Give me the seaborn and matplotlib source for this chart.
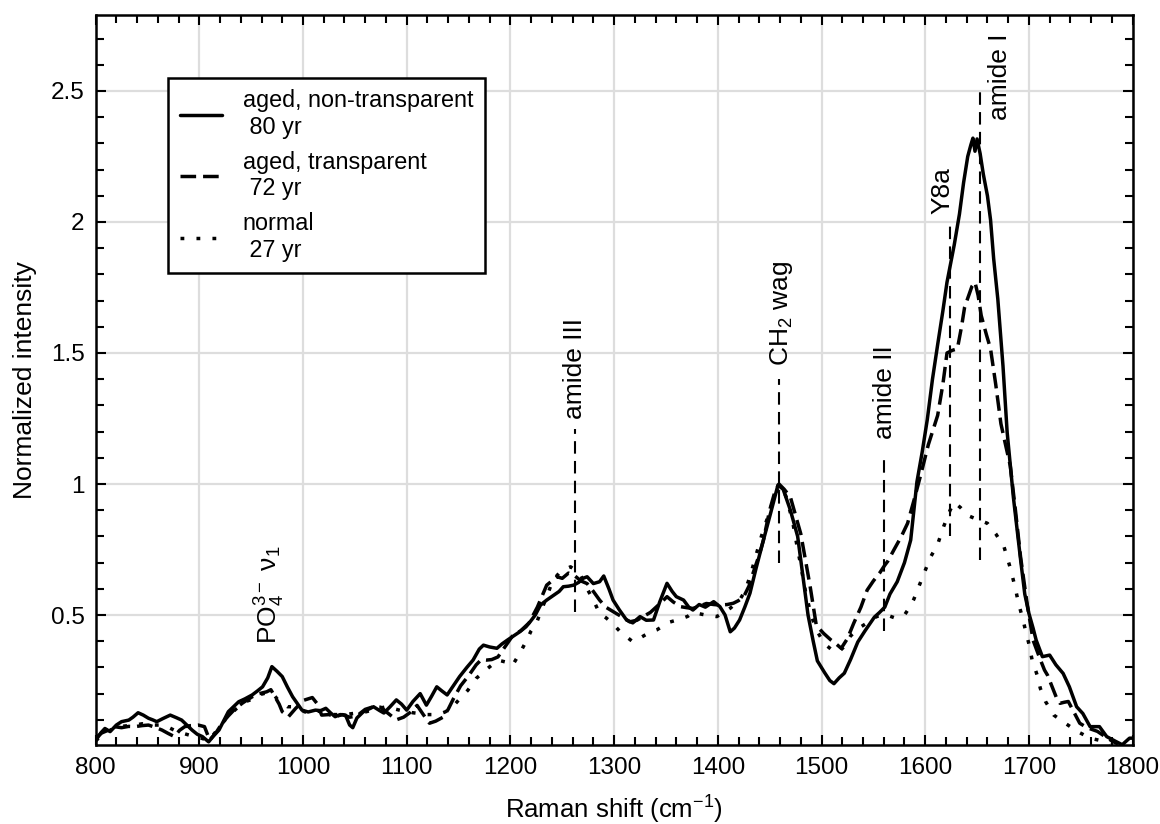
import matplotlib
matplotlib.use("Agg")
import matplotlib.pyplot as plt
import seaborn as sns
from matplotlib.ticker import MultipleLocator

# spectra (Raman shift in cm-1, normalized intensity)
wn_opaque = [800, 805, 809, 814, 820, 825, 832, 836, 841, 846, 851, 855, 859, 865, 872, 878, 883, 888, 893, 898,
             903, 909, 914, 919, 924, 928, 933, 938, 944, 951, 956, 961, 966, 970, 975, 980, 985, 990, 995, 999,
             1005, 1012, 1017, 1022, 1027, 1031, 1036, 1041, 1045, 1048, 1052, 1058, 1063, 1068, 1074, 1078, 1084,
             1090, 1095, 1100, 1106, 1113, 1119, 1124, 1129, 1134, 1139, 1145, 1151, 1158, 1164, 1170, 1174, 1180,
             1187, 1192, 1197, 1203, 1209, 1215, 1219, 1224, 1229, 1235, 1242, 1247, 1251, 1256, 1261, 1266, 1270,
             1274, 1280, 1286, 1290, 1295, 1299, 1305, 1312, 1318, 1325, 1331, 1338, 1344, 1351, 1356, 1360, 1367,
             1372, 1376, 1382, 1388, 1396, 1402, 1407, 1412, 1416, 1421, 1426, 1431, 1437, 1444, 1451, 1458, 1463,
             1470, 1477, 1482, 1487, 1492, 1496, 1503, 1508, 1512, 1517, 1522, 1528, 1535, 1542, 1551, 1556, 1561,
             1566, 1573, 1580, 1586, 1592, 1597, 1602, 1607, 1612, 1617, 1621, 1628, 1633, 1637, 1641, 1644, 1646,
             1648, 1650, 1653, 1656, 1660, 1663, 1666, 1670, 1675, 1679, 1685, 1692, 1696, 1700, 1704, 1707, 1713,
             1720, 1726, 1733, 1739, 1746, 1752, 1759, 1768, 1775, 1784, 1790, 1797, 1800]
int_opaque = [0.02, 0.05, 0.067, 0.055, 0.08, 0.093, 0.099, 0.11, 0.127, 0.118, 0.106, 0.10, 0.093, 0.105, 0.118,
              0.108, 0.099, 0.08, 0.061, 0.045, 0.036, 0.016, 0.04, 0.061, 0.10, 0.131, 0.15, 0.169, 0.18, 0.195,
              0.21, 0.226, 0.26, 0.303, 0.285, 0.265, 0.225, 0.188, 0.16, 0.137, 0.13, 0.137, 0.135, 0.144, 0.125,
              0.112, 0.12, 0.118, 0.08, 0.07, 0.107, 0.13, 0.14, 0.15, 0.135, 0.126, 0.15, 0.176, 0.16, 0.137, 0.17,
              0.2, 0.156, 0.19, 0.226, 0.21, 0.195, 0.23, 0.265, 0.30, 0.328, 0.37, 0.385, 0.378, 0.373, 0.39, 0.404,
              0.42, 0.436, 0.455, 0.474, 0.50, 0.538, 0.557, 0.576, 0.59, 0.608, 0.61, 0.614, 0.625, 0.64, 0.646,
              0.62, 0.627, 0.649, 0.60, 0.557, 0.52, 0.481, 0.47, 0.494, 0.48, 0.481, 0.55, 0.621, 0.59, 0.57, 0.557,
              0.53, 0.519, 0.54, 0.53, 0.551, 0.532, 0.50, 0.436, 0.45, 0.481, 0.53, 0.583, 0.68, 0.786, 0.89, 0.996,
              0.98, 0.90, 0.80, 0.65, 0.50, 0.40, 0.325, 0.28, 0.25, 0.238, 0.26, 0.278, 0.33, 0.397, 0.44, 0.492,
              0.51, 0.53, 0.58, 0.627, 0.70, 0.786, 1.008, 1.12, 1.246, 1.40, 1.532, 1.66, 1.77, 1.913, 2.03, 2.15,
              2.25, 2.294, 2.32, 2.27, 2.317, 2.26, 2.183, 2.10, 2.008, 1.86, 1.706, 1.45, 1.198, 0.95, 0.71, 0.58,
              0.506, 0.45, 0.404, 0.341, 0.347, 0.31, 0.277, 0.226, 0.15, 0.124, 0.074, 0.074, 0.036, 0.017, 0.005,
              0.03, 0.03]

wn_transp = [800, 806, 812, 818, 825, 832, 838, 845, 851, 857, 864, 870, 876, 881, 886, 892, 899, 905, 910, 916,
             922, 928, 935, 942, 951, 958, 965, 969, 973, 977, 980, 986, 993, 1001, 1009, 1014, 1018, 1025, 1031,
             1038, 1045, 1052, 1060, 1068, 1075, 1082, 1090, 1097, 1104, 1110, 1116, 1122, 1128, 1135, 1140, 1145,
             1152, 1160, 1167, 1172, 1177, 1182, 1188, 1195, 1202, 1210, 1218, 1226, 1235, 1240, 1245, 1250, 1256,
             1262, 1268, 1274, 1280, 1286, 1292, 1302, 1309, 1315, 1322, 1328, 1335, 1341, 1346, 1351, 1357, 1364,
             1370, 1376, 1383, 1389, 1396, 1402, 1409, 1415, 1420, 1425, 1430, 1434, 1440, 1444, 1450, 1455, 1459,
             1464, 1470, 1475, 1480, 1485, 1489, 1495, 1502, 1509, 1514, 1519, 1525, 1531, 1538, 1544, 1550, 1556,
             1561, 1564, 1570, 1577, 1583, 1590, 1596, 1603, 1612, 1617, 1621, 1626, 1631, 1635, 1638, 1642, 1645,
             1648, 1651, 1654, 1659, 1663, 1668, 1673, 1678, 1682, 1687, 1692, 1698, 1704, 1710, 1715, 1718, 1722,
             1727, 1730, 1734, 1738, 1742, 1749, 1756, 1766, 1772, 1781, 1786]
int_transp = [0.03, 0.05, 0.06, 0.074, 0.07, 0.075, 0.074, 0.078, 0.08, 0.072, 0.061, 0.048, 0.036, 0.06, 0.074,
              0.078, 0.08, 0.074, 0.023, 0.05, 0.087, 0.115, 0.144, 0.165, 0.188, 0.2, 0.207, 0.215, 0.188, 0.16,
              0.131, 0.112, 0.144, 0.175, 0.185, 0.16, 0.118, 0.12, 0.112, 0.12, 0.11, 0.115, 0.14, 0.15, 0.148,
              0.125, 0.10, 0.11, 0.13, 0.155, 0.12, 0.087, 0.095, 0.11, 0.14, 0.18, 0.23, 0.27, 0.31, 0.33, 0.328,
              0.33, 0.34, 0.38, 0.42, 0.44, 0.47, 0.53, 0.614, 0.63, 0.646, 0.64, 0.66, 0.65, 0.63, 0.62, 0.59, 0.557,
              0.53, 0.506, 0.49, 0.474, 0.48, 0.494, 0.51, 0.532, 0.55, 0.57, 0.55, 0.532, 0.528, 0.525, 0.535,
              0.544, 0.54, 0.538, 0.54, 0.545, 0.555, 0.57, 0.61, 0.66, 0.73, 0.786, 0.90, 0.97, 1.0, 0.98, 0.95,
              0.88, 0.81, 0.70, 0.61, 0.46, 0.43, 0.405, 0.39, 0.373, 0.41, 0.468, 0.53, 0.595, 0.63, 0.66, 0.69,
              0.706, 0.75, 0.80, 0.85, 0.95, 1.04, 1.15, 1.262, 1.38, 1.50, 1.51, 1.516, 1.6, 1.675, 1.72, 1.754,
              1.77, 1.72, 1.643, 1.57, 1.516, 1.38, 1.23, 1.14, 1.07, 0.90, 0.72, 0.55, 0.404, 0.34, 0.29, 0.27,
              0.23, 0.18, 0.163, 0.167, 0.17, 0.14, 0.087, 0.07, 0.056, 0.04, 0.017, 0.008]

wn_normal = [800, 806, 812, 818, 825, 832, 838, 845, 851, 858, 864, 870, 876, 883, 890, 896, 902, 909, 915, 920,
             925, 935, 945, 952, 957, 962, 967, 971, 975, 980, 985, 992, 997, 1002, 1010, 1020, 1030, 1040, 1050,
             1060, 1070, 1080, 1090, 1100, 1110, 1120, 1130, 1137, 1143, 1150, 1159, 1167, 1178, 1188, 1196, 1202,
             1209, 1215, 1220, 1225, 1230, 1235, 1241, 1247, 1253, 1258, 1263, 1268, 1274, 1280, 1286, 1292, 1298,
             1305, 1311, 1318, 1324, 1330, 1335, 1341, 1346, 1351, 1358, 1365, 1371, 1376, 1388, 1399, 1406, 1412,
             1421, 1426, 1431, 1437, 1442, 1447, 1452, 1457, 1462, 1466, 1472, 1477, 1480, 1485, 1490, 1495, 1503,
             1509, 1516, 1522, 1528, 1536, 1544, 1551, 1557, 1563, 1570, 1576, 1580, 1585, 1589, 1594, 1599, 1605,
             1612, 1618, 1624, 1628, 1634, 1641, 1650, 1660, 1668, 1676, 1682, 1687, 1690, 1694, 1697, 1700, 1703,
             1708, 1711, 1716, 1724, 1735, 1747, 1759, 1770, 1778]
int_normal = [0.02, 0.04, 0.055, 0.07, 0.075, 0.078, 0.08, 0.085, 0.08, 0.08, 0.08, 0.072, 0.06, 0.05, 0.042,
              0.036, 0.03, 0.02, 0.05, 0.075, 0.10, 0.14, 0.17, 0.18, 0.195, 0.2, 0.205, 0.2, 0.18, 0.165, 0.15,
              0.15, 0.14, 0.13, 0.135, 0.13, 0.12, 0.12, 0.125, 0.13, 0.14, 0.15, 0.14, 0.13, 0.125, 0.12, 0.12,
              0.13, 0.144, 0.175, 0.213, 0.258, 0.296, 0.328, 0.32, 0.308, 0.354, 0.398, 0.44, 0.468, 0.52, 0.57,
              0.633, 0.66, 0.675, 0.684, 0.67, 0.65, 0.60, 0.557, 0.506, 0.49, 0.47, 0.44, 0.42, 0.398, 0.41, 0.424,
              0.435, 0.443, 0.455, 0.47, 0.478, 0.486, 0.495, 0.51, 0.50, 0.494, 0.51, 0.526, 0.557, 0.59, 0.646,
              0.73, 0.80, 0.86, 0.92, 0.97, 0.99, 0.95, 0.86, 0.75, 0.69, 0.58, 0.50, 0.443, 0.39, 0.37, 0.357,
              0.38, 0.42, 0.45, 0.47, 0.49, 0.50, 0.50, 0.49, 0.495, 0.50, 0.53, 0.56, 0.61, 0.66, 0.72, 0.77, 0.84,
              0.90, 0.93, 0.91, 0.88, 0.865, 0.85, 0.81, 0.76, 0.68, 0.601, 0.544, 0.487, 0.436, 0.39, 0.33, 0.27,
              0.22, 0.17, 0.118, 0.087, 0.055, 0.03, 0.02, 0.005]

# band assignments
band_names = ["amide III", "CH$_2$ wag", "amide II", "Y8a", "amide I"]
band_pos = [1262, 1459, 1560, 1624, 1653]
band_lo = [0.51, 0.70, 0.44, 0.80, 0.71]
band_hi = [1.21, 1.40, 1.12, 2.00, 2.50]
band_text_x = [1262, 1461, 1561, 1617, 1672]
band_text_y = [1.25, 1.45, 1.17, 2.03, 2.39]

sns.set_style("ticks")
plt.rcParams["font.family"] = ["Liberation Sans", "DejaVu Sans"]
plt.rcParams["mathtext.fontset"] = "custom"
plt.rcParams["mathtext.rm"] = "Liberation Sans"
plt.rcParams["mathtext.it"] = "Liberation Sans:italic"
plt.rcParams["mathtext.bf"] = "Liberation Sans:bold"
for key in ["text.color", "axes.labelcolor", "xtick.color", "ytick.color", "axes.edgecolor"]:
    plt.rcParams[key] = "black"

fig, ax = plt.subplots(figsize=(11.6, 8.24), dpi=100)
fig.subplots_adjust(left=0.0824, right=0.9764, bottom=0.0959, top=0.9818)

sns.lineplot(x=wn_opaque, y=int_opaque, ax=ax, color="black", linewidth=2.5, estimator=None,
             label="aged, non-transparent\n 80 yr")
sns.lineplot(x=wn_transp, y=int_transp, ax=ax, color="black", linewidth=2.5, estimator=None,
             linestyle=(0, (4.5, 2)), label="aged, transparent\n 72 yr")
sns.lineplot(x=wn_normal, y=int_normal, ax=ax, color="black", linewidth=2.5, estimator=None,
             linestyle=(0, (1.1, 3.5)), label="normal\n 27 yr")

for name, xp, lo, hi, tx, ty in zip(band_names, band_pos, band_lo, band_hi, band_text_x, band_text_y):
    ax.plot([xp, xp], [lo, hi], color="black", lw=1.5, linestyle=(0, (6, 3.5)))
    ax.text(tx, ty, name, rotation=90, ha="center", va="bottom", fontsize=19)

ax.text(968, 0.39, "PO$_4^{3-}$ ν$_1$", rotation=90, ha="center", va="bottom", fontsize=19)

ax.set_xlim(800, 1800)
ax.set_ylim(0.004, 2.79)
ax.set_xticks([800, 900, 1000, 1100, 1200, 1300, 1400, 1500, 1600, 1700, 1800])
ax.set_yticks([0.5, 1, 1.5, 2, 2.5])
ax.set_yticklabels(["0.5", "1", "1.5", "2", "2.5"])
ax.xaxis.set_minor_locator(MultipleLocator(20))
ax.yaxis.set_minor_locator(MultipleLocator(0.1))
ax.grid(True, which="major", color="#dddddd", lw=1.6)
ax.set_axisbelow(True)
ax.tick_params(which="both", direction="in", top=True, right=True, width=1.5, labelsize=17.5)
ax.tick_params(axis="x", which="major", length=7, pad=9)
ax.tick_params(axis="y", which="major", length=7, pad=8)
ax.tick_params(which="minor", length=6)
for sp in ax.spines.values():
    sp.set_linewidth(1.8)
    sp.set_color("black")

ax.set_xlabel("Raman shift (cm$^{-1}$)", fontsize=18.5, labelpad=10)
ax.set_ylabel("Normalized intensity", fontsize=19, labelpad=10)

leg = ax.legend(loc="upper left", bbox_to_anchor=(0.07, 0.914), borderaxespad=0, fontsize=16.8,
                frameon=True, fancybox=False, framealpha=1, edgecolor="black",
                handlelength=1.8, handletextpad=0.9, labelspacing=0.5, borderpad=0.5)
leg.get_frame().set_linewidth(1.8)

fig.savefig("out.png", dpi=100)
